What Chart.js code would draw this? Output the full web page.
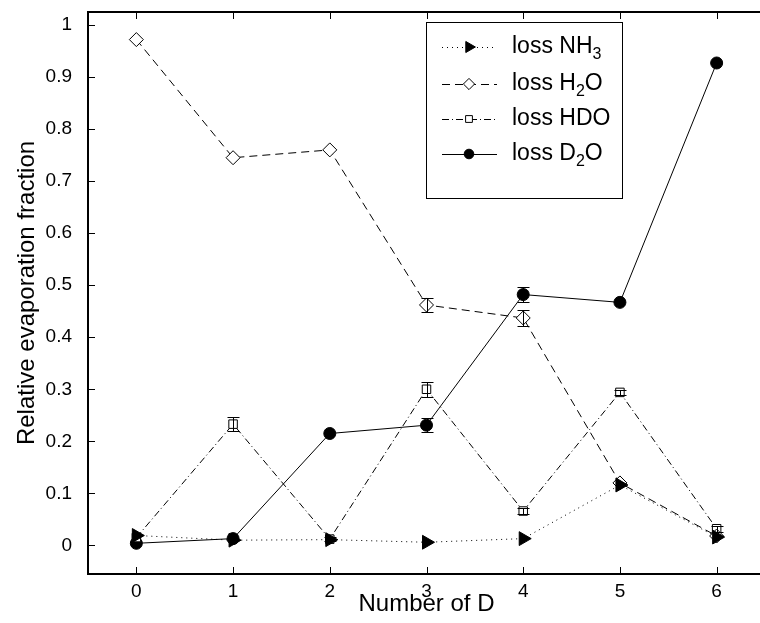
<!DOCTYPE html>
<html>
<head>
<meta charset="utf-8">
<script src="https://cdn.jsdelivr.net/npm/chart.js@4.4.0/dist/chart.umd.min.js"></script>
<style>
  html, body { margin: 0; padding: 0; background: #fff; overflow: hidden; }
  #wrap { width: 774px; height: 623px; }
</style>
</head>
<body>
<div id="wrap"><canvas id="evapChart" width="774" height="623"></canvas></div>
<script>
// Data
const numberOfD = [0, 1, 2, 3, 4, 5, 6];
const lossNH3 = [0.019, 0.010, 0.011, 0.006, 0.013, 0.116, 0.016];
const lossH2O = [0.972, 0.745, 0.760, 0.462, 0.437, 0.120, 0.018];
const lossHDO = [0.015, 0.233, 0.012, 0.300, 0.066, 0.294, 0.032];
const lossD2O = [0.004, 0.013, 0.215, 0.231, 0.482, 0.467, 0.927];

// Error bar half-heights
const errNH3 = [0, 0, 0, 0, 0, 0, 0];
const errH2O = [0, 0, 0, 0.014, 0.015, 0, 0];
const errHDO = [0, 0.013, 0.004, 0.014, 0.006, 0.005, 0.006];
const errD2O = [0, 0, 0, 0.014, 0.015, 0, 0];

const xTicks = [0, 1, 2, 3, 4, 5, 6];
const yTicks = [0, 0.1, 0.2, 0.3, 0.4, 0.5, 0.6, 0.7, 0.8, 0.9, 1];
const yTickLabels = ['0', '0.1', '0.2', '0.3', '0.4', '0.5', '0.6', '0.7', '0.8', '0.9', '1'];

// legend text pieces: [normal, subscript, normal]
const legendLabels = [
    ['loss NH', '3', ''],
    ['loss H', '2', 'O'],
    ['loss HDO', '', ''],
    ['loss D', '2', 'O']
];

const FONT = '"Liberation Sans", Arial, Helvetica, sans-serif';

function toPoints(ys) {
    return numberOfD.map((x, i) => ({ x: x, y: ys[i] }));
}

const seriesStyles = [
    { dash: [1, 4], pointStyle: 'triangle', rotation: 90, radius: 8, fill: '#000' },
    { dash: [8, 5], pointStyle: 'rectRot', rotation: 0, radius: 7, fill: '#fff' },
    { dash: [7, 3, 1, 3], pointStyle: 'rect', rotation: 0, radius: 6, fill: '#fff' },
    { dash: [], pointStyle: 'circle', rotation: 0, radius: 6, fill: '#000' }
];
const seriesValues = [lossNH3, lossH2O, lossHDO, lossD2O];
const seriesErrors = [errNH3, errH2O, errHDO, errD2O];

// Axes box (right side falls outside the picture) and inward ticks
const boxPlugin = {
    id: 'boxPlugin',
    beforeDatasetsDraw(chart) {
        const { ctx, chartArea: a, scales } = chart;
        ctx.save();
        ctx.strokeStyle = '#000';
        ctx.lineWidth = 1;
        xTicks.forEach(v => {
            const px = Math.round(scales.x.getPixelForValue(v)) + 0.5;
            ctx.beginPath();
            ctx.moveTo(px, a.bottom); ctx.lineTo(px, a.bottom - 7);
            ctx.moveTo(px, a.top); ctx.lineTo(px, a.top + 7);
            ctx.stroke();
        });
        yTicks.forEach(v => {
            const py = Math.round(scales.y.getPixelForValue(v)) + 0.5;
            ctx.beginPath();
            ctx.moveTo(a.left, py); ctx.lineTo(a.left + 7, py);
            ctx.stroke();
        });
        ctx.lineWidth = 2;
        ctx.beginPath();
        ctx.moveTo(a.right + 10, a.top); ctx.lineTo(a.left, a.top);
        ctx.lineTo(a.left, a.bottom); ctx.lineTo(a.right + 10, a.bottom);
        ctx.stroke();
        ctx.restore();
    }
};

// Error bars
const errorBarPlugin = {
    id: 'errorBarPlugin',
    afterDatasetsDraw(chart) {
        const { ctx, scales } = chart;
        ctx.save();
        ctx.strokeStyle = '#000';
        ctx.lineWidth = 1;
        seriesValues.forEach((vals, s) => {
            const errs = seriesErrors[s];
            vals.forEach((v, i) => {
                if (!errs[i]) return;
                const px = Math.round(scales.x.getPixelForValue(numberOfD[i])) + 0.5;
                const top = Math.round(scales.y.getPixelForValue(v + errs[i])) + 0.5;
                const bot = Math.round(scales.y.getPixelForValue(v - errs[i])) + 0.5;
                ctx.beginPath();
                ctx.moveTo(px, top); ctx.lineTo(px, bot);
                ctx.moveTo(px - 6, top); ctx.lineTo(px + 6, top);
                ctx.moveTo(px - 6, bot); ctx.lineTo(px + 6, bot);
                ctx.stroke();
            });
        });
        ctx.restore();
    }
};

// Legend inside the plot with subscripts
const legendPlugin = {
    id: 'legendPlugin',
    afterDraw(chart) {
        const ctx = chart.ctx;
        const bx = 426, by = 22, bw = 196, bh = 176;
        const rowY = [47, 84, 119, 154];
        ctx.save();
        ctx.fillStyle = '#fff';
        ctx.fillRect(bx, by, bw, bh);
        ctx.strokeStyle = '#000';
        ctx.lineWidth = 1;
        ctx.strokeRect(bx + 0.5, by + 0.5, bw, bh);
        seriesStyles.forEach((st, i) => {
            const y = rowY[i];
            ctx.setLineDash(st.dash);
            ctx.beginPath();
            ctx.moveTo(442, y + 0.5); ctx.lineTo(497, y + 0.5);
            ctx.stroke();
            ctx.setLineDash([]);
            ctx.fillStyle = st.fill;
            ctx.strokeStyle = '#000';
            Chart.helpers.drawPoint(ctx, {
                pointStyle: st.pointStyle, radius: st.radius * 0.8,
                rotation: st.rotation, borderWidth: 1
            }, 469, y);
            const parts = legendLabels[i];
            ctx.fillStyle = '#000';
            ctx.textBaseline = 'middle';
            ctx.textAlign = 'left';
            let tx = 512;
            ctx.font = '23px ' + FONT;
            ctx.fillText(parts[0], tx, y);
            tx += ctx.measureText(parts[0]).width;
            if (parts[1]) {
                ctx.font = '16px ' + FONT;
                ctx.fillText(parts[1], tx, y + 8);
                tx += ctx.measureText(parts[1]).width;
            }
            if (parts[2]) {
                ctx.font = '23px ' + FONT;
                ctx.fillText(parts[2], tx, y);
            }
        });
        ctx.restore();
    }
};

const datasets = seriesValues.map((vals, i) => {
    const st = seriesStyles[i];
    return {
        data: toPoints(vals),
        borderColor: '#000',
        borderWidth: 1,
        borderDash: st.dash,
        backgroundColor: st.fill,
        pointStyle: st.pointStyle,
        pointRotation: st.rotation,
        pointRadius: st.radius,
        pointBorderColor: '#000',
        pointBackgroundColor: st.fill,
        pointBorderWidth: 1,
        tension: 0,
        fill: false
    };
});

new Chart(document.getElementById('evapChart'), {
    type: 'line',
    data: { datasets: datasets },
    options: {
        responsive: false,
        animation: false,
        events: [],
        layout: { padding: { top: 12, right: 1, left: 0, bottom: 0 } },
        plugins: {
            legend: { display: false },
            tooltip: { enabled: false }
        },
        scales: {
            x: {
                type: 'linear',
                min: -0.5,
                max: 6.5,
                afterFit: s => { s.height = 49; },
                afterBuildTicks: s => { s.ticks = xTicks.map(v => ({ value: v })); },
                grid: { display: false, drawTicks: false },
                border: { display: false },
                ticks: {
                    padding: 6,
                    color: '#000',
                    font: { family: FONT, size: 19 },
                    callback: v => String(v)
                },
                title: {
                    display: true,
                    text: 'Number of D',
                    color: '#000',
                    font: { family: FONT, size: 24 },
                    padding: { top: 0, bottom: 4 }
                }
            },
            y: {
                type: 'linear',
                min: -0.055,
                max: 1.025,
                afterFit: s => { s.width = 88; s.paddingTop = 0; s.paddingBottom = 0; },
                afterBuildTicks: s => { s.ticks = yTicks.map(v => ({ value: v })); },
                grid: { display: false, drawTicks: false },
                border: { display: false },
                ticks: {
                    padding: 16,
                    color: '#000',
                    font: { family: FONT, size: 19 },
                    callback: (v, idx) => yTickLabels[idx]
                },
                title: {
                    display: true,
                    text: 'Relative evaporation fraction',
                    color: '#000',
                    font: { family: FONT, size: 24 },
                    padding: { top: 13, bottom: 0 }
                }
            }
        }
    },
    plugins: [boxPlugin, errorBarPlugin, legendPlugin]
});
</script>
</body>
</html>
